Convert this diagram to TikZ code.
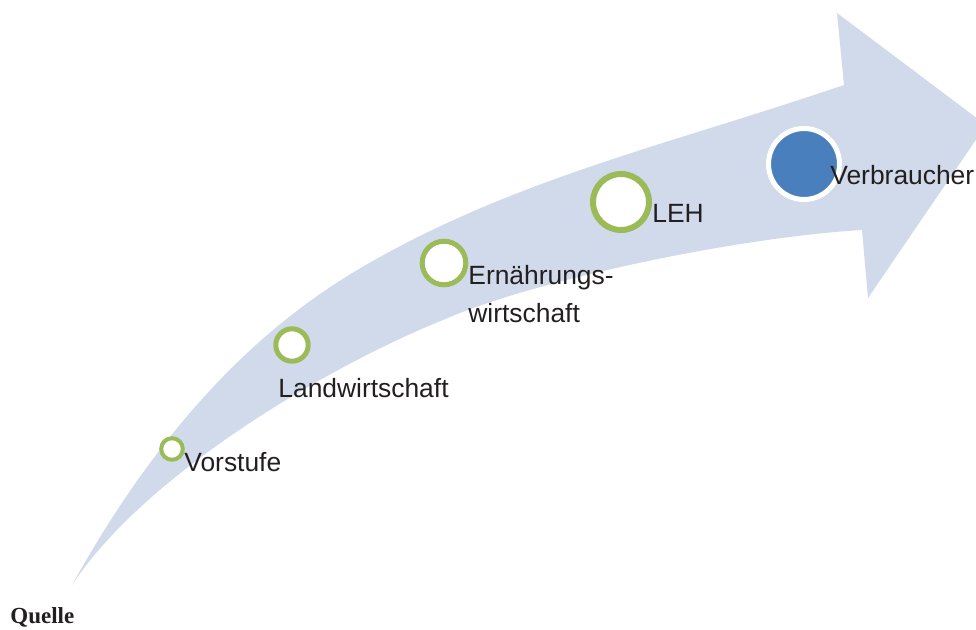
\documentclass[tikz,border=0pt]{standalone}
\usepackage{fontspec}
\setmainfont{Liberation Sans}
\newfontfamily\quellefont{Liberation Serif}
\definecolor{band}{HTML}{D0DAEA}
\definecolor{ringgreen}{HTML}{9BBB59}
\definecolor{dotblue}{HTML}{4A7FBD}
\definecolor{labeltext}{HTML}{231F20}
\tikzset{
  stage/.style={circle, draw=ringgreen, fill=white, inner sep=0pt, line width=2.5pt},
  label/.style={inner sep=0pt, anchor=base west, text=labeltext, font=\fontsize{13.2}{16}\selectfont},
}
\begin{document}
\begin{tikzpicture}[x=0.5pt, y=-0.5pt]
\useasboundingbox (0,0) rectangle (976,630);
\clip (0,0) rectangle (976,630);

% curved arrow: upper edge of the shaft, arrow head, then lower edge back to the tail
\fill[band]
  (72,585) .. controls (175,400) and (281,313) .. (371,262)
           .. controls (521,177) and (671,144) .. (844,85)
  -- (837,13) -- (986,125) -- (868,298) -- (862,230)
           .. controls (730,238) and (529,282) .. (443,320)
           .. controls (329,366) and (146,473) .. (72,585)
  -- cycle;

% stages along the chain
\node[stage, line width=2pt, minimum size=10.8pt] (vorstufe) at (172,449) {};
\node[stage, minimum size=16.2pt] (landw) at (292,345) {};
\node[stage, minimum size=21.8pt] (ernaehr) at (444,263) {};
\node[stage, line width=3pt, minimum size=28pt] (leh) at (621,202) {};
\node[circle, fill=dotblue, draw=white, line width=2.5pt, inner sep=0pt, minimum size=35.5pt] (verbr) at (804,164) {};

% labels
\node[label] (tVorstufe) at (184,472) {Vorstufe};
\node[label] (tLandw) at (278,398) {Landwirtschaft};
\node[label] (tErn1) at (468,285) {Ernährungs-};
\node[label] (tErn2) at (468,323) {wirtschaft};
\node[label] (tLeh) at (652,223) {LEH};
\node[label] (tVerbr) at (830,185) {Verbraucher};

\node[inner sep=0pt, anchor=base west, text=labeltext, font=\quellefont\bfseries\fontsize{11.5}{14}\selectfont] (quelle) at (10,624) {Quelle};
\end{tikzpicture}
\end{document}
